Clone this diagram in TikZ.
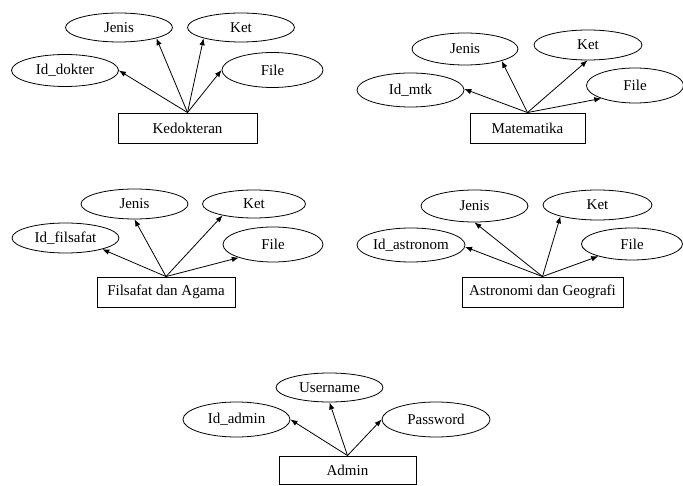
\documentclass[tikz,border=0pt]{standalone}
\usepackage{fontspec}
\setmainfont{Liberation Serif}
\usetikzlibrary{shapes.geometric,arrows.meta}

\tikzset{
  attr/.style={draw, ellipse, line width=0.8pt, inner sep=0pt,
    minimum width=107pt, minimum height=32pt,
    font=\fontsize{15}{18}\selectfont},
  entity/.style={draw, rectangle, line width=0.9pt, inner sep=0pt,
    minimum height=30pt, font=\fontsize{15}{18}\selectfont},
  link/.style={line width=0.8pt, -{Latex[length=7pt,width=5.5pt]}}
}

\begin{document}
\begin{tikzpicture}[x=1pt,y=-1pt]
\useasboundingbox (0,0) rectangle (683,486);

% Kedokteran
\node[entity, minimum width=139pt] (ked) at (187.5,128) {Kedokteran};
\node[attr] (kedid) at (65,70.5) {Id\_dokter};
\node[attr, minimum height=29pt] (kedjenis) at (119,27.5) {Jenis};
\node[attr, minimum height=29pt] (kedket) at (241,27.5) {Ket};
\node[attr, minimum width=101pt, minimum height=35pt] (kedfile) at (272.5,70) {File};
\draw[link] (ked.north) -- (kedid.0);
\draw[link] (ked.north) -- (kedjenis.-16);
\draw[link] (ked.north) -- (kedket.-164);
\draw[link] (ked.north) -- (kedfile.180);

% Matematika
\node[entity, minimum width=115pt] (mtk) at (527.5,128) {Matematika};
\node[attr, minimum height=34pt] (mtkid) at (410.5,90) {Id\_mtk};
\node[attr, minimum width=106pt] (mtkjenis) at (465,49) {Jenis};
\node[attr, minimum width=108pt, minimum height=30pt] (mtkket) at (588,45) {Ket};
\node[attr, minimum width=97pt, minimum height=35pt] (mtkfile) at (635,85.5) {File};
\draw[link] (mtk.north) -- (mtkid.1);
\draw[link] (mtk.north) -- (mtkjenis.-18);
\draw[link] (mtk.north) -- (mtkket.-92);
\draw[link] (mtk.north) -- (mtkfile.-159);

% Filsafat dan Agama
\node[entity, minimum width=138pt] (fil) at (166,292) {Filsafat dan Agama};
\node[attr, minimum height=30pt] (filid) at (65.5,238) {Id\_filsafat};
\node[attr, minimum height=30pt] (filjenis) at (134.5,204) {Jenis};
\node[attr, minimum width=103pt, minimum height=28pt] (filket) at (254,204) {Ket};
\node[attr, minimum width=100pt, minimum height=35pt] (filfile) at (273,244.5) {File};
\draw[link] (fil.north) -- (filid.-17);
\draw[link] (fil.north) -- (filjenis.-90);
\draw[link] (fil.north) -- (filket.-160);
\draw[link] (fil.north) -- (filfile.-159);

% Astronomi dan Geografi
\node[entity, minimum width=161pt] (ast) at (542.5,292) {Astronomi dan Geografi};
\node[attr, minimum width=108pt, minimum height=34pt] (astid) at (411,245) {Id\_astronom};
\node[attr] (astjenis) at (474.5,206) {Jenis};
\node[attr, minimum width=109pt, minimum height=30pt] (astket) at (597.5,205) {Ket};
\node[attr, minimum width=101pt] (astfile) at (632,244) {File};
\draw[link] (ast.north) -- (astid.-2);
\draw[link] (ast.north) -- (astjenis.-90);
\draw[link] (ast.north) -- (astket.-163);
\draw[link] (ast.north) -- (astfile.-160);

% Admin
\node[entity, minimum width=137pt, minimum height=28pt] (adm) at (347.5,470) {Admin};
\node[attr, minimum height=35pt] (admid) at (236.5,419.5) {Id\_admin};
\node[attr, minimum height=29pt] (admuser) at (329.5,387.5) {Username};
\node[attr, minimum width=108pt, minimum height=35pt] (admpass) at (436,419.5) {Password};
\draw[link] (adm.north) -- (admid.0);
\draw[link] (adm.north) -- (admuser.-90);
\draw[link] (adm.north) -- (admpass.180);
\end{tikzpicture}
\end{document}
